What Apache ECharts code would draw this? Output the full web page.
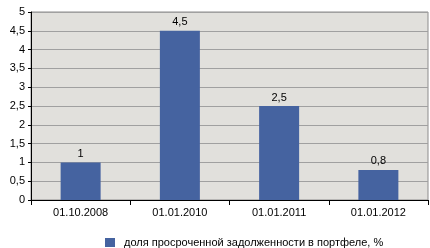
<!DOCTYPE html>
<html><head><meta charset="utf-8">
<script src="https://cdn.jsdelivr.net/npm/echarts@6/dist/echarts.min.js"></script>
<style>html,body{margin:0;padding:0;background:#fff}#c{width:430px;height:248px}</style>
</head><body><div id="c"></div>
<script>
var categories = ['01.10.2008', '01.01.2010', '01.01.2011', '01.01.2012'];
var values = [1, 4.5, 2.5, 0.8];
var seriesName = 'доля просроченной задолженности в портфеле, %';
var yTicks = [0, 0.5, 1, 1.5, 2, 2.5, 3, 3.5, 4, 4.5, 5];

var FONT = 'Liberation Sans';
function fmt(v){ return String(v).replace('.', ','); }
var chart = echarts.init(document.getElementById('c'), null, {renderer:'canvas'});
chart.setOption({
  animation: false,
  textStyle: {fontFamily: FONT},
  grid: {left: 31, top: 12, right: 2, bottom: 48, show: true, backgroundColor: '#E1E0DC', borderColor: '#8C8C8C', borderWidth: 1},
  legend: {
    top: 232, left: 100, itemWidth: 10, itemHeight: 9, padding: 5,
    textStyle: {fontFamily: FONT, fontSize: 11, color: '#000', padding: [1, 0, 0, 4]},
    icon: 'rect',
    data: [seriesName]
  },
  xAxis: {
    type: 'category', data: categories,
    axisLine: {lineStyle: {color: '#000', width: 1}},
    axisTick: {show: true, length: 5, lineStyle: {color: '#000'}},
    axisLabel: {fontFamily: FONT, fontSize: 11, color: '#000', margin: 7}
  },
  yAxis: {
    type: 'value', min: yTicks[0], max: yTicks[yTicks.length-1], interval: 0.5,
    axisLine: {show: true, lineStyle: {color: '#000', width: 1}},
    axisTick: {show: true, length: 3, lineStyle: {color: '#000'}},
    splitLine: {lineStyle: {color: '#A0A0A0', width: 1}},
    axisLabel: {fontFamily: FONT, fontSize: 11, color: '#000', margin: 6, formatter: fmt}
  },
  series: [{
    name: seriesName, type: 'bar', data: values, barWidth: 40,
    itemStyle: {color: '#4563A0'},
    label: {show: true, position: 'top', distance: 3, fontFamily: FONT, fontSize: 11, color: '#000', formatter: function(p){return fmt(p.value);}}
  }]
});
</script></body></html>
